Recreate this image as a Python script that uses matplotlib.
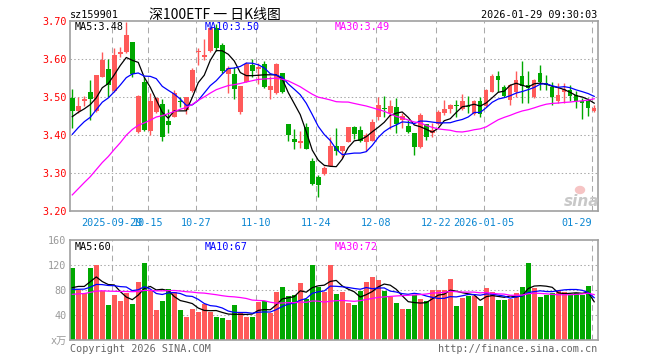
import numpy as np
import pandas as pd
import matplotlib
matplotlib.use('Agg')
from matplotlib import pyplot as plt
from matplotlib.patches import Ellipse

# daily candles, 2025-09-18 .. 2026-01-29 (88 sessions)
opens = [3.498, 3.463, 3.489, 3.515, 3.465, 3.554, 3.575, 3.517, 3.614, 3.618,
         3.645, 3.408, 3.541, 3.411, 3.462, 3.482, 3.438, 3.449, 3.489, 3.467,
         3.517, 3.618, 3.605, 3.622, 3.682, 3.638, 3.561, 3.561, 3.462, 3.539,
         3.585, 3.575, 3.587, 3.519, 3.511, 3.563, 3.430, 3.390, 3.381, 3.421,
         3.332, 3.291, 3.298, 3.318, 3.372, 3.359, 3.383, 3.421, 3.414, 3.383,
         3.386, 3.449, 3.473, 3.460, 3.474, 3.440, 3.425, 3.405, 3.368, 3.430,
         3.405, 3.430, 3.460, 3.468, 3.480, 3.468, 3.477, 3.455, 3.490, 3.477,
         3.515, 3.556, 3.528, 3.493, 3.515, 3.556, 3.532, 3.500, 3.565, 3.537,
         3.528, 3.489, 3.515, 3.519, 3.506, 3.489, 3.489, 3.465]
highs = [3.522, 3.502, 3.504, 3.546, 3.560, 3.620, 3.600, 3.629, 3.633, 3.699,
         3.645, 3.506, 3.554, 3.512, 3.500, 3.496, 3.468, 3.518, 3.502, 3.500,
         3.576, 3.629, 3.654, 3.685, 3.693, 3.644, 3.582, 3.581, 3.530, 3.594,
         3.600, 3.589, 3.596, 3.556, 3.589, 3.565, 3.430, 3.417, 3.411, 3.433,
         3.339, 3.296, 3.318, 3.395, 3.418, 3.373, 3.421, 3.425, 3.424, 3.405,
         3.443, 3.500, 3.504, 3.493, 3.499, 3.460, 3.440, 3.405, 3.460, 3.430,
         3.433, 3.467, 3.493, 3.482, 3.493, 3.509, 3.504, 3.493, 3.500, 3.521,
         3.561, 3.568, 3.532, 3.534, 3.568, 3.596, 3.569, 3.547, 3.585, 3.559,
         3.541, 3.537, 3.537, 3.532, 3.517, 3.497, 3.497, 3.480]
lows = [3.418, 3.460, 3.477, 3.440, 3.462, 3.554, 3.500, 3.515, 3.607, 3.617,
        3.553, 3.406, 3.412, 3.401, 3.460, 3.386, 3.405, 3.449, 3.474, 3.456,
        3.515, 3.585, 3.598, 3.620, 3.622, 3.563, 3.512, 3.495, 3.455, 3.539,
        3.553, 3.534, 3.524, 3.496, 3.509, 3.511, 3.386, 3.364, 3.366, 3.364,
        3.268, 3.237, 3.296, 3.318, 3.348, 3.339, 3.383, 3.389, 3.383, 3.360,
        3.386, 3.440, 3.449, 3.416, 3.407, 3.418, 3.405, 3.348, 3.367, 3.388,
        3.395, 3.427, 3.454, 3.458, 3.449, 3.467, 3.458, 3.453, 3.449, 3.474,
        3.515, 3.515, 3.502, 3.480, 3.502, 3.486, 3.486, 3.497, 3.519, 3.518,
        3.480, 3.486, 3.486, 3.489, 3.471, 3.443, 3.451, 3.462]
closes = [3.465, 3.477, 3.496, 3.496, 3.559, 3.598, 3.532, 3.611, 3.619, 3.664,
          3.561, 3.504, 3.414, 3.489, 3.499, 3.396, 3.427, 3.512, 3.487, 3.500,
          3.572, 3.622, 3.610, 3.682, 3.629, 3.569, 3.576, 3.522, 3.530, 3.588,
          3.569, 3.581, 3.528, 3.530, 3.588, 3.515, 3.401, 3.383, 3.385, 3.364,
          3.272, 3.269, 3.315, 3.372, 3.359, 3.372, 3.421, 3.403, 3.385, 3.401,
          3.436, 3.480, 3.469, 3.477, 3.429, 3.452, 3.408, 3.370, 3.454, 3.395,
          3.414, 3.460, 3.469, 3.480, 3.477, 3.489, 3.474, 3.489, 3.455, 3.519,
          3.557, 3.546, 3.504, 3.532, 3.546, 3.530, 3.524, 3.546, 3.541, 3.532,
          3.502, 3.506, 3.521, 3.504, 3.489, 3.484, 3.473, 3.473]
# volume, 10k shares
volumes = [116, 80, 75, 116, 120, 79, 56, 72, 63, 76, 58, 93, 124, 80, 48, 63, 82, 77, 48, 37,
           50, 46, 58, 46, 38, 35, 33, 56, 46, 37, 38, 62, 63, 44, 77, 85, 71, 72, 91, 66,
           121, 86, 77, 121, 74, 77, 60, 56, 79, 93, 102, 97, 79, 70, 60, 50, 50, 72, 66, 63,
           80, 80, 80, 98, 55, 68, 71, 71, 55, 84, 77, 64, 64, 66, 76, 85, 123, 84, 69, 72,
           76, 79, 77, 72, 76, 72, 87, 1]

# sessions before the visible window (only feed the moving averages)
prev_closes = [2.99, 3.01, 3.03, 3.00, 3.04, 3.06, 3.05, 3.09, 3.07, 3.11,
               3.17, 3.23, 3.27, 3.25, 3.29, 3.27, 3.34, 3.31, 3.36, 3.33,
               3.30, 3.34, 3.38, 3.36, 3.40, 3.42, 3.45, 3.44, 3.47]
prev_volumes = [55, 62, 58, 65, 60, 72, 80, 70, 78, 68, 82, 75, 75, 70, 66,
                72, 68, 74, 70, 70, 80, 72, 85, 76, 82, 70, 75, 78, 82]

tick_idx = [7, 13, 21, 31, 41, 51, 61, 69, 87]
tick_labels = ['2025-09-29', '10-15', '10-27', '11-10', '11-24', '12-08', '12-22', '2026-01-05', '01-29']

RED = '#ff5a5a'
GREEN = '#00a800'
GRID = '#aaaaaa'
MONO = ['DejaVu Sans Mono', 'Noto Sans CJK SC']
W, H = 660, 360

n = len(closes)
x = np.arange(n)
o = np.array(opens); c = np.array(closes)
up = c >= o
cols = np.where(up, RED, GREEN)

cs = pd.Series(prev_closes + closes)
vs = pd.Series(prev_volumes + volumes)
k = len(prev_closes)
ma = {p: cs.rolling(p).mean().values[k:] for p in (5, 10, 30)}
vma = {p: vs.rolling(p).mean().values[k:] for p in (5, 10, 30)}
ma_cols = {5: 'black', 10: '#0000ff', 30: '#ff00ff'}

fig = plt.figure(figsize=(W / 100, H / 100), dpi=100)
ax = fig.add_axes([70 / W, 1 - 211.3 / H, 527.5 / W, 190 / H])
axv = fig.add_axes([70 / W, 1 - 340.3 / H, 527.5 / W, 100 / H])

grid_x = [i - 0.33 for i in tick_idx]
for a in (ax, axv):
    a.set_xlim(-0.38, 87.55)
    for s in a.spines.values():
        s.set_color('#a0a0a0')
        s.set_linewidth(1.2)
    for gx in grid_x:
        a.axvline(gx, color=GRID, lw=0.75, dashes=(5.5, 4), zorder=0)

# price panel
ax.set_ylim(3.20, 3.70)
for gy in (3.3, 3.4, 3.5, 3.6):
    ax.axhline(gy, color=GRID, lw=0.75, linestyle=(0, (1.4, 2.2)), zorder=0)
ax.vlines(x, lows, highs, colors=cols, lw=1.0, zorder=2)
body_h = np.maximum(np.abs(c - o), 0.003)
ax.bar(x, body_h, bottom=np.minimum(o, c), width=0.76, color=cols, lw=0, zorder=3)
for p in (5, 10, 30):
    ax.plot(x, ma[p], color=ma_cols[p], lw=0.9, zorder=4)

ax.set_yticks([3.2, 3.3, 3.4, 3.5, 3.6, 3.7])
ax.set_yticklabels(['3.20', '3.30', '3.40', '3.50', '3.60', '3.70'], family=MONO)
ax.tick_params(axis='y', length=0, pad=2.5, labelcolor='red', labelsize=7.3)
ax.set_xticks(grid_x)
ax.set_xticklabels(tick_labels, family=MONO)
ax.tick_params(axis='x', length=0, pad=5, labelcolor='#0a86d2', labelsize=7.3)
ax.get_xticklabels()[-1].set_ha('right')
ax.get_xticklabels()[-1].set_x(grid_x[-1] + 0.5)

# volume panel
axv.set_ylim(0, 160)
for gy in (40, 80, 120):
    axv.axhline(gy, color=GRID, lw=0.75, linestyle=(0, (1.4, 2.2)), zorder=0)
axv.bar(x, volumes, width=0.78, color=cols, lw=0, zorder=2)
for p in (5, 10, 30):
    axv.plot(x, vma[p], color=ma_cols[p], lw=0.9, zorder=4)
axv.set_yticks([0, 40, 80, 120, 160])
axv.set_yticklabels(['x万', '40', '80', '120', '160'], family=MONO)
axv.tick_params(axis='y', length=0, pad=2.5, labelcolor='#999999', labelsize=7.3)
axv.set_xticks([])

def ftext(px, py, s, **kw):
    kw.setdefault('family', MONO)
    kw.setdefault('size', 7.3)
    kw.setdefault('va', 'center')
    fig.text(px / W, 1 - py / H, s, **kw)

ftext(70, 15, 'sz159901')
ftext(215, 14.5, '深100ETF 一 日K线图', ha='center', size=10, family=['Noto Sans CJK SC', 'DejaVu Sans'])
ftext(597.5, 15, '2026-01-29 09:30:03', ha='right')

ftext(74.5, 27, 'MA5:3.48', color='black')
ftext(204.7, 27, 'MA10:3.50', color='#0000ff')
ftext(334.7, 27, 'MA30:3.49', color='#ff00ff')
ftext(74.5, 247, 'MA5:60', color='black')
ftext(204.7, 247, 'MA10:67', color='#0000ff')
ftext(334.7, 247, 'MA30:72', color='#ff00ff')

ftext(70, 349, 'Copyright 2026 SINA.COM', color='#666666')
ftext(597.5, 349, 'http://finance.sina.com.cn', ha='right', color='#666666')

# sina watermark
fig.patches.append(Ellipse((580 / W, 1 - 190 / H), 9 / W, 7 / H, transform=fig.transFigure,
                           color='#f6c4c4', zorder=5))
ftext(582, 201, 'sina', ha='center', size=11, style='italic', weight='bold',
      color='#c8c8c8', family='DejaVu Sans')

fig.savefig('out.png', dpi=100)
